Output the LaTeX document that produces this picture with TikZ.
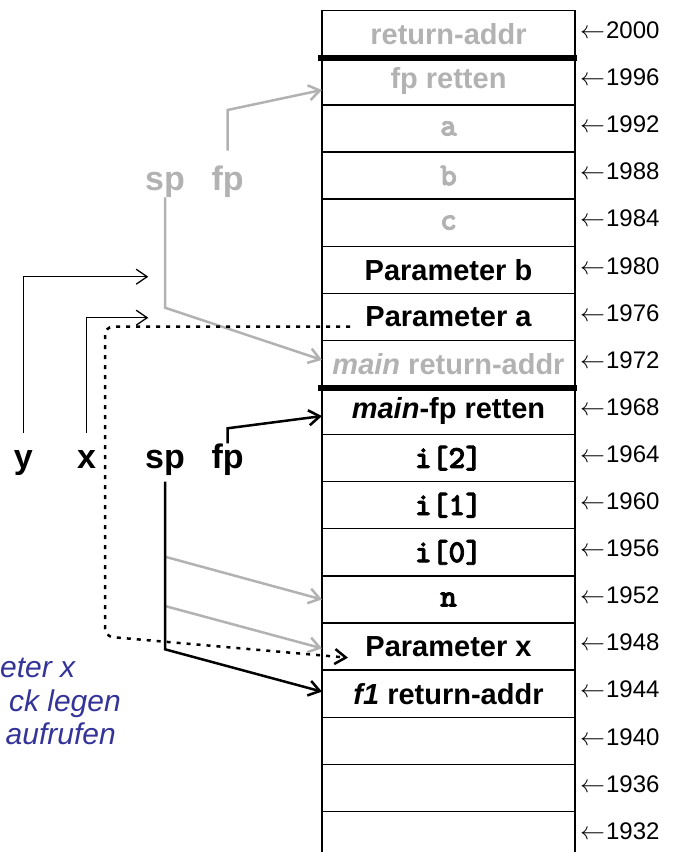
\documentclass[tikz,border=0pt]{standalone}
\usepackage{fontspec}
\setmainfont{Liberation Sans}
\newfontfamily\courfont[FakeBold=2.5]{lmmonolt10-bold.otf}
\usetikzlibrary{arrows.meta}

\definecolor{oldgrey}{RGB}{178,178,178}
\definecolor{noteblue}{RGB}{51,51,153}

\newcommand{\gr}[1]{\textcolor{oldgrey}{#1}}
\newcommand{\cv}[1]{{\fontsize{32}{33}\selectfont\courfont #1}}

\tikzset{
  cell/.style={draw, line width=1.3pt, minimum width=253pt, minimum height=47.1pt,
    inner sep=0pt, outer sep=0pt, font=\fontsize{29}{33}\selectfont\bfseries},
  addr/.style={anchor=west, inner sep=0pt, font=\fontsize{24}{28}\selectfont},
  reg/.style={anchor=base, inner sep=0pt, font=\fontsize{34}{40}\selectfont\bfseries},
  ptr/.style={->, line width=2.5pt},
  oldptr/.style={->, line width=2.5pt, oldgrey},
  varptr/.style={->, line width=1.3pt},
  copyline/.style={->, line width=2.5pt, dash pattern=on 4pt off 6pt, rounded corners=8pt},
  note/.style={inner sep=0pt, text=noteblue, font=\fontsize{30}{33}\selectfont\itshape}
}

\begin{document}
\begin{tikzpicture}[x=1pt, y=-1pt, >={Straight Barb[length=11pt,width=15pt]}]
    \useasboundingbox (0,0) rectangle (673,852);

    % Stack cells with their addresses
    \foreach \addr/\txt [count=\i] in {2000/\gr{return-addr}, 1996/\gr{fp retten},
        1992/\gr{\cv{a}}, 1988/\gr{\cv{b}}, 1984/\gr{\cv{c}},
        1980/Parameter b, 1976/Parameter a, 1972/\gr{\textit{main} return-addr},
        1968/\textit{main}-fp retten, 1964/\cv{i[2]}, 1960/\cv{i[1]}, 1956/\cv{i[0]},
        1952/\cv{n}, 1948/Parameter x, 1944/\textit{f1} return-addr,
        1940/{}, 1936/{}, 1932/{}}
    {
        \node[cell] (m\addr) at (448.5,{34.25+47.1*(\i-1)}) {\txt};
        \node[addr] at ([xshift=5pt,yshift=4pt]m\addr.east) {$\leftarrow$\kern1pt\addr};
    }

    % Frame borders
    \draw[line width=6pt] ([xshift=-4pt]m2000.south west) -- ([xshift=2pt]m2000.south east);
    \draw[line width=6pt] ([xshift=-4pt]m1972.south west) -- ([xshift=2pt]m1972.south east);

    % Registers of the calling frame (grey)
    \node[reg, text=oldgrey] (spold) at (165,190) {sp};
    \node[reg, text=oldgrey] (fpold) at (227.7,190) {fp};
    \draw[oldptr] ([yshift=14.5pt]fpold.north) -- ++(0,-40.7) -- ([yshift=-8.6pt]m1996.west);
    \draw[oldptr] (spold.south) -- (165,307.7) -- ([yshift=4pt]m1972.west);

    % Variables y and x
    \node[reg] (vary) at (23.3,468.3) {y};
    \node[reg] (varx) at (86.7,468.3) {x};
    \coordinate (yslot) at (148.3,276.7);
    \coordinate (xslot) at (148.3,317.7);
    \draw[varptr] ([yshift=17pt]vary.north) |- (yslot);
    \draw[varptr] ([yshift=17pt]varx.north) |- (xslot);

    % Copy parameter a into parameter x
    \coordinate (pa) at (350,326.7);
    \coordinate (px) at (348,657.7);
    \draw[copyline] (pa) -- (105,326.7) -- (105,636.5) -- (px);

    % Current registers
    \node[reg] (sp) at (165,468.3) {sp};
    \node[reg] (fp) at (227.7,468.3) {fp};
    \draw[ptr] (fp.north) -- ++(0,-15.2) -- ([yshift=-5pt]m1968.west);
    \coordinate (sp1) at (165,556.7);
    \coordinate (sp2) at (165,606);
    \draw[oldptr] (sp1) -- (m1952.west);
    \draw[oldptr] (sp2) -- ([yshift=-1.8pt]m1948.west);
    \draw[ptr] ([yshift=-6pt]sp.south) -- (165,649.3) -- ([yshift=2pt]m1944.west);

    % Note
    \node[note, anchor=base west] (n1) at (0,677.3) {eter x};
    \node[note, anchor=base east] (n2) at (121,711.7) {ck legen};
    \node[note, anchor=base east] (n3) at (116,744.3) {aufrufen};
\end{tikzpicture}
\end{document}
